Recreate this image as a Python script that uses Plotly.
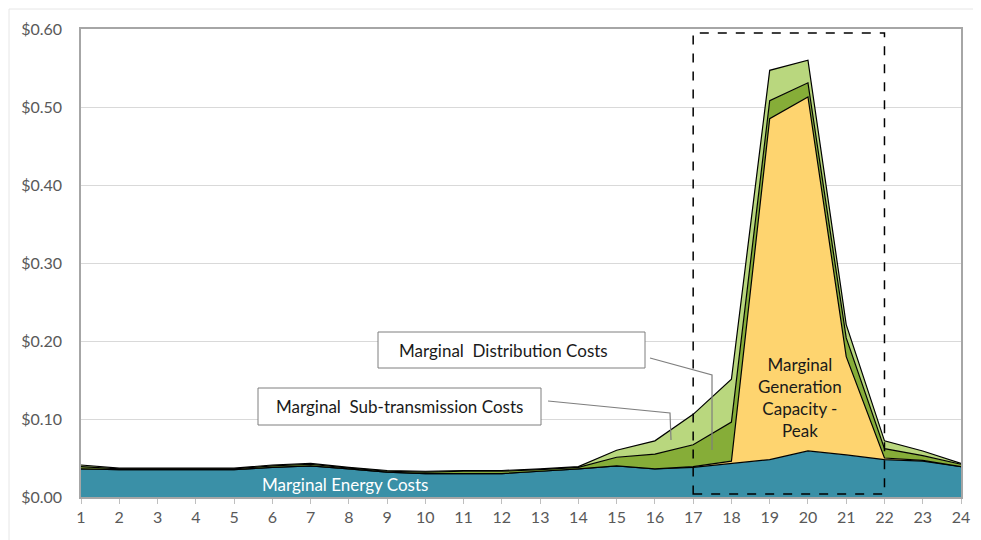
import plotly.graph_objects as go

hours = list(range(1, 25))
energy = [0.036, 0.035, 0.035, 0.035, 0.035, 0.038, 0.040, 0.036, 0.032, 0.030, 0.030, 0.030,
          0.033, 0.036, 0.040, 0.036, 0.038, 0.043, 0.048, 0.059, 0.054, 0.048, 0.046, 0.039]
gen_capacity = [0, 0, 0, 0, 0, 0, 0, 0, 0, 0, 0, 0,
                0, 0, 0, 0, 0.001, 0.003, 0.437, 0.454, 0.126, 0.002, 0.001, 0]
sub_transmission = [0.003, 0.001, 0.001, 0.001, 0.001, 0.002, 0.002, 0.001, 0.001, 0.002, 0.003, 0.003,
                    0.002, 0.002, 0.011, 0.019, 0.028, 0.050, 0.023, 0.018, 0.024, 0.012, 0.006, 0.003]
distribution = [0.002, 0.001, 0.001, 0.001, 0.001, 0.001, 0.001, 0.001, 0.001, 0.001, 0.001, 0.001,
                0.001, 0.001, 0.009, 0.017, 0.039, 0.055, 0.039, 0.029, 0.017, 0.010, 0.006, 0.001]
y_ticks = [0, 0.1, 0.2, 0.3, 0.4, 0.5, 0.6]

series = [
    ("Marginal Energy Costs", energy, "#3A90A7"),
    ("Marginal Generation Capacity - Peak", gen_capacity, "#FED46F"),
    ("Marginal Sub-transmission Costs", sub_transmission, "#86AD38"),
    ("Marginal Distribution Costs", distribution, "#B9D77E"),
]

fig = go.Figure()
for name, vals, col in series:
    fig.add_trace(go.Scatter(
        x=hours, y=vals, name=name, stackgroup="one", mode="lines",
        line=dict(color="#000000", width=1.2), fillcolor=col, hoverinfo="x+y+name"))

FONT = "Lato, Open Sans, sans-serif"

def dx(px):
    return 1 + (px - 81) / 38.26

def dy(py):
    return (497 - py) / 780

shapes = [
    # dashed peak box
    dict(type="rect", xref="x", yref="y", x0=17, x1=22, y0=dy(494), y1=dy(33),
         line=dict(color="#000000", width=1.5, dash="dash"), fillcolor="rgba(0,0,0,0)", layer="above"),
    # distribution callout box
    dict(type="rect", xref="x", yref="y", x0=dx(378), x1=dx(645), y0=dy(368), y1=dy(332),
         line=dict(color="#7F7F7F", width=1), fillcolor="#FFFFFF", layer="above"),
    dict(type="path", xref="x", yref="y",
         path=f"M {dx(650)},{dy(358)} L {dx(712)},{dy(375)} L {dx(712)},{dy(450)}",
         line=dict(color="#7F7F7F", width=1.2), layer="above"),
    # sub-transmission callout box
    dict(type="rect", xref="x", yref="y", x0=dx(258), x1=dx(541), y0=dy(425), y1=dy(388),
         line=dict(color="#7F7F7F", width=1), fillcolor="#FFFFFF", layer="above"),
    dict(type="path", xref="x", yref="y",
         path=f"M {dx(548)},{dy(401)} L {dx(670)},{dy(413)} L {dx(671)},{dy(440)}",
         line=dict(color="#7F7F7F", width=1.2), layer="above"),
    # outer chart border (faint)
    dict(type="line", xref="paper", yref="paper", x0=(9 - 81) / 880, x1=(9 - 81) / 880,
         y0=1 + (29 - 9) / 468, y1=-0.2, line=dict(color="#E6E6E6", width=1)),
    dict(type="line", xref="paper", yref="paper", x0=(9 - 81) / 880, x1=1.1,
         y0=1 + (29 - 9) / 468, y1=1 + (29 - 9) / 468, line=dict(color="#E6E6E6", width=1)),
]

annotations = [
    dict(x=dx(345), y=dy(484), xref="x", yref="y", text="Marginal Energy Costs", showarrow=False,
         font=dict(family=FONT, size=17, color="#FFFFFF")),
    dict(x=dx(800), y=dy(397), xref="x", yref="y",
         text="Marginal<br>Generation<br>Capacity -<br>Peak", showarrow=False,
         font=dict(family=FONT, size=17, color="#1A1A1A"), align="center"),
    dict(x=dx(503), y=dy(350), xref="x", yref="y", text="Marginal  Distribution Costs", showarrow=False,
         font=dict(family=FONT, size=17, color="#1A1A1A")),
    dict(x=dx(399), y=dy(406), xref="x", yref="y", text="Marginal  Sub-transmission Costs", showarrow=False,
         font=dict(family=FONT, size=17, color="#1A1A1A")),
]

fig.update_layout(
    width=981, height=540,
    margin=dict(l=73, r=28, t=21, b=51),
    paper_bgcolor="#FFFFFF", plot_bgcolor="#FFFFFF",
    showlegend=False,
    shapes=shapes, annotations=annotations,
    font=dict(family=FONT, size=16, color="#595959"),
    xaxis=dict(range=[1, 24], tickmode="array", tickvals=hours, ticktext=[str(h) for h in hours],
               showgrid=False, zeroline=False, showline=True, linecolor="#A6A6A6", linewidth=1.5,
               mirror=True, ticks="outside", ticklen=5, tickcolor="#BFBFBF",
               tickfont=dict(family=FONT, size=16, color="#595959")),
    yaxis=dict(range=[0, 0.6], tickmode="array", tickvals=y_ticks,
               ticktext=[f"${v:.2f}" for v in y_ticks],
               showgrid=True, gridcolor="#D9D9D9", gridwidth=1, zeroline=False,
               showline=True, linecolor="#A6A6A6", linewidth=1.5, mirror=True,
               ticks="", ticklabelstandoff=14,
               tickfont=dict(family=FONT, size=16, color="#595959")),
)

fig.write_html("out.html")
